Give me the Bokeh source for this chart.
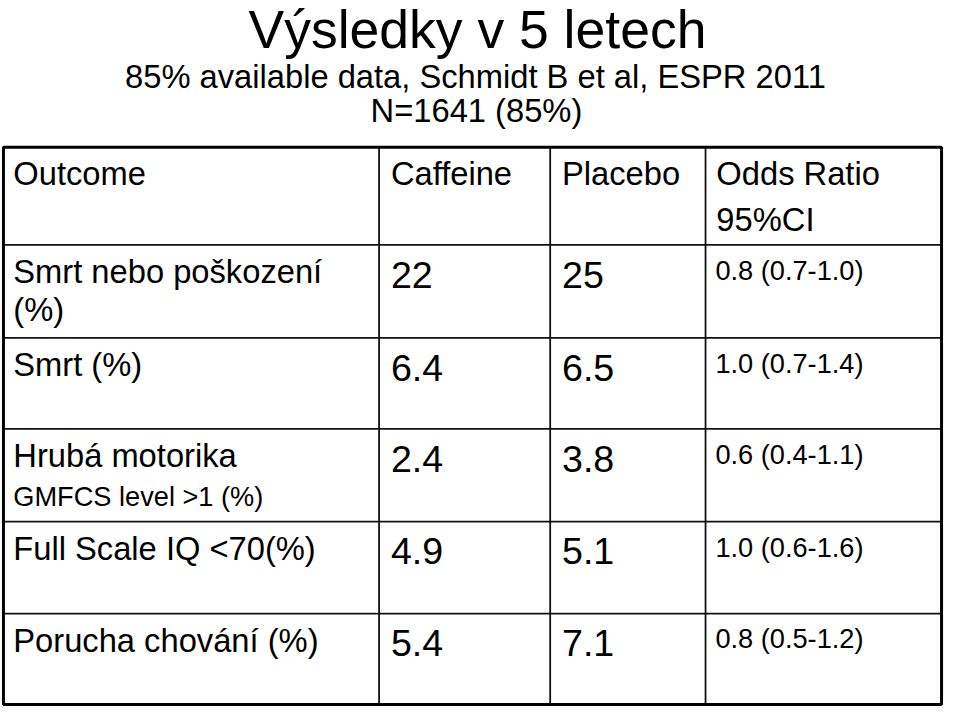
from bokeh.plotting import figure
from bokeh.models import Range1d
from bokeh.core.properties import value
from bokeh.embed import file_html
from bokeh.resources import INLINE

# ---------------- data ----------------
title = "Výsledky v 5 letech"
subtitle = "85% available data, Schmidt B et al, ESPR 2011"
subtitle2 = "N=1641 (85%)"

headers = ["Outcome", "Caffeine", "Placebo", "Odds Ratio"]
header_sub = "95%CI"

outcomes = ["Smrt nebo poškození", "Smrt (%)", "Hrubá motorika",
            "Full Scale IQ <70(%)", "Porucha chování (%)"]
outcome_sub = ["(%)", "", "GMFCS level >1 (%)", "", ""]
caffeine = ["22", "6.4", "2.4", "4.9", "5.4"]
placebo = ["25", "6.5", "3.8", "5.1", "7.1"]
odds = ["0.8 (0.7-1.0)", "1.0 (0.7-1.4)", "0.6 (0.4-1.1)",
        "1.0 (0.6-1.6)", "0.8 (0.5-1.2)"]

# ---------------- layout (reference pixel units) ----------------
W, H = 944, 707
K = 0.99
FONT = value("Liberation Sans")
SHIFT = 0.33   # baseline correction, fraction of font size

col_x = [13, 397, 571, 728]           # text start of each column
col_lines = [385, 559, 717]           # inner vertical lines
row_tops = [250, 345, 438, 533, 627]  # inner horizontal lines
tbl_left, tbl_right, tbl_top, tbl_bottom = 3, 957, 150, 720

p = figure(width=W, height=H, x_range=Range1d(0, 960), y_range=Range1d(723, 0),
           output_backend="svg", toolbar_location=None,
           min_border_left=0, min_border_right=0, min_border_top=0, min_border_bottom=0)
p.xaxis.visible = False
p.yaxis.visible = False
p.grid.visible = False
p.outline_line_color = None
p.background_fill_color = "white"
p.border_fill_color = "white"


def put(xs, baselines, texts, size, align="left"):
    ys = [b - SHIFT * size for b in baselines]
    p.text(x=xs, y=ys, text=texts, text_font=FONT,
           text_font_size=value(f"{size * K:.1f}px"),
           text_align=align, text_baseline="alphabetic", text_color="black")


# table lines
p.segment(x0=[tbl_left] * len(row_tops), x1=[tbl_right] * len(row_tops),
          y0=row_tops, y1=row_tops, line_color="#111111", line_width=1.8)
p.segment(x0=col_lines, x1=col_lines, y0=[tbl_top] * 3, y1=[tbl_bottom] * 3,
          line_color="#111111", line_width=1.8)
p.quad(left=[tbl_left], right=[tbl_right], top=[tbl_top], bottom=[tbl_bottom],
       fill_color=None, line_color="#000000", line_width=3)

# titles
put([485], [47], [title], 54, "center")
put([483], [89], [subtitle], 33, "center")
put([484], [123], [subtitle2], 33, "center")

# headers
put(col_x, [188] * 4, headers, 33)
put([col_x[3]], [235], [header_sub], 33)

# row labels
lab_y = [t + 38 for t in row_tops]
put([col_x[0]] * len(outcomes), lab_y, outcomes, 33)
put([col_x[0]], [lab_y[0] + 39], [outcome_sub[0]], 33)
put([col_x[0]], [lab_y[2] + 40], [outcome_sub[2]], 27.5)

# values
num_y = [t + 43 for t in row_tops]
put([col_x[1]] * 5, num_y, caffeine, 38)
put([col_x[2]] * 5, num_y, placebo, 38)
or_y = [t + 35 for t in row_tops]
put([col_x[3] - 1] * 5, or_y, odds, 27.5)

open("out.html", "w").write(file_html(p, INLINE))
